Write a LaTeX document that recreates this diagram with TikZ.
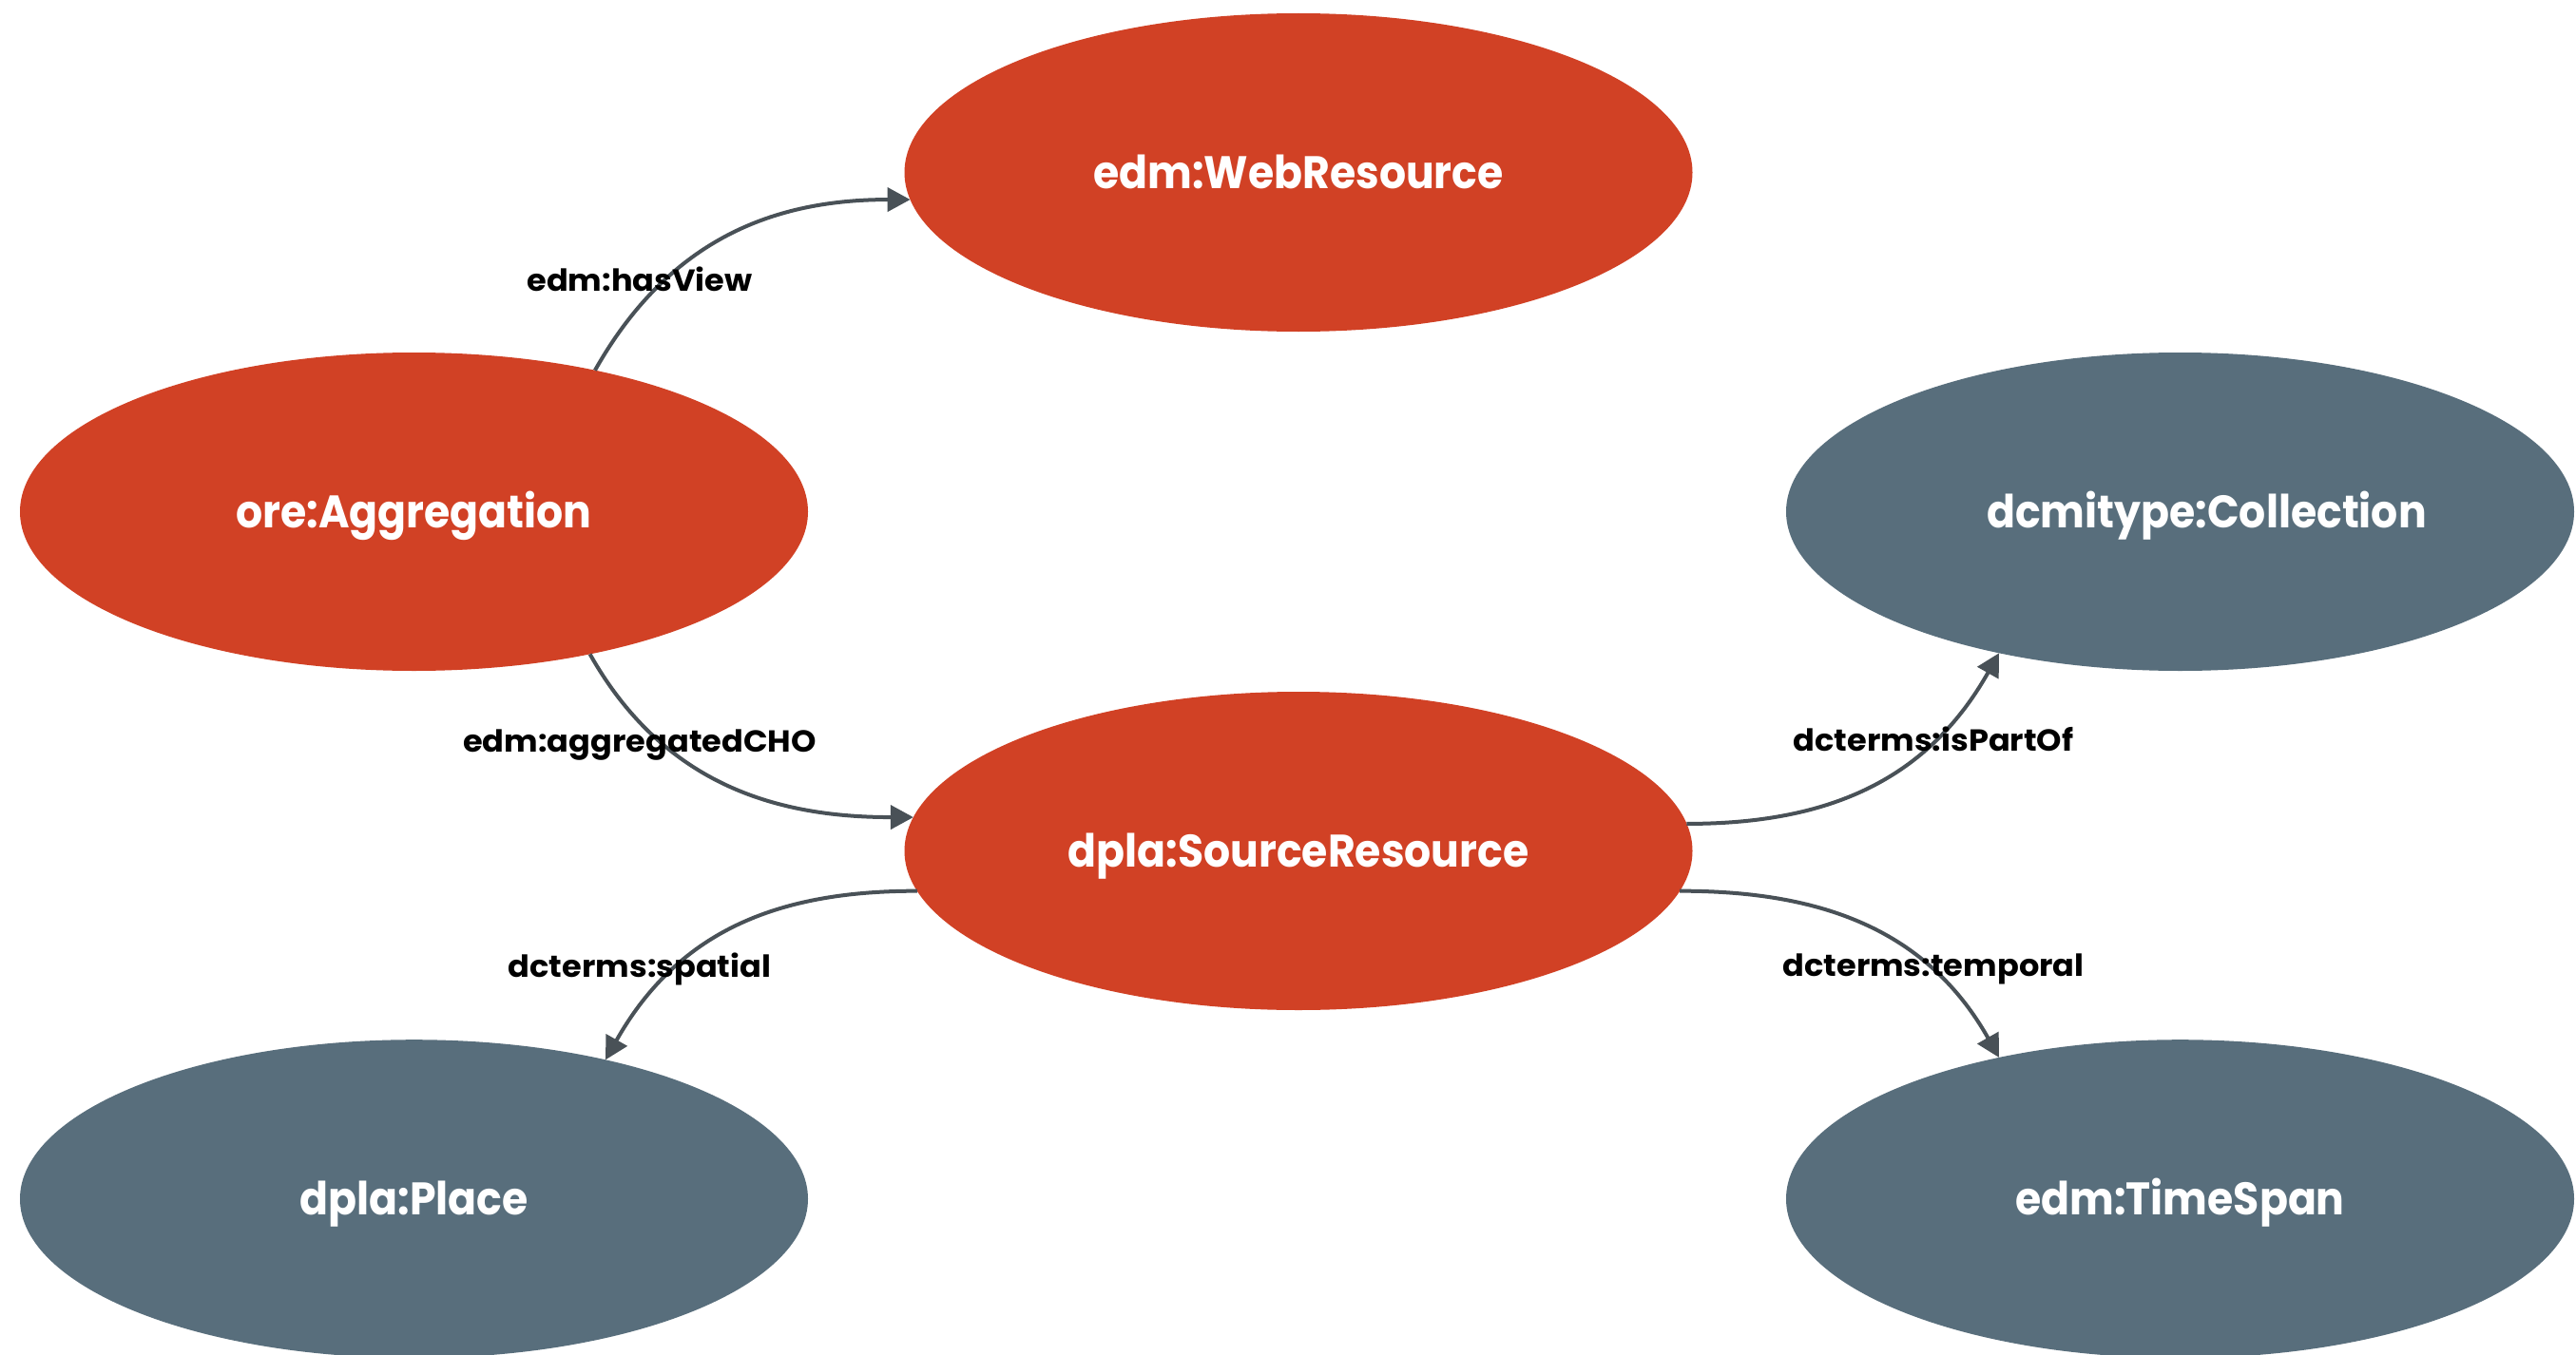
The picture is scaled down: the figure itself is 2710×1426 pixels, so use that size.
\documentclass[tikz,border=0pt]{standalone}
\usepackage{fontspec}
\usetikzlibrary{shapes.geometric,arrows.meta}
\newfontfamily\nodefont{Poppins}[FakeStretch=0.92]
\newfontfamily\edgefont{Poppins}[FakeStretch=1.05]
\definecolor{dplared}{RGB}{209,65,37}
\definecolor{dplagray}{RGB}{88,110,124}
\definecolor{linegray}{RGB}{73,81,87}
\begin{document}
\begin{tikzpicture}[x=1pt,y=-1pt,
  ent/.style={ellipse, minimum width=829pt, minimum height=335pt, inner sep=0pt, outer sep=0pt,
    text=white, font=\nodefont\bfseries\fontsize{48}{48}\selectfont, text height=33pt, text depth=0pt},
  redent/.style={ent, fill=dplared},
  grayent/.style={ent, fill=dplagray},
  rel/.style={draw=linegray, line width=4pt, -{Triangle[length=24pt,width=25pt]}},
  lbl/.style={font=\edgefont\bfseries\fontsize{32}{32}\selectfont, text=black, inner sep=0pt, anchor=base}]
\clip (0,0) rectangle (2710,1426);
\fill[white] (0,0) rectangle (2710,1426);
\node[redent] (web) at (1366,181.5) {edm:WebResource};
\node[redent] (agg) at (435.5,538.5) {ore:Aggregation};
\node[grayent] (coll) at (2293.5,538.5) {\hspace*{56pt}dcmitype:Collection};
\node[redent] (src) at (1366,895.5) {dpla:SourceResource};
\node[grayent] (place) at (435.5,1261.7) {dpla:Place};
\node[grayent] (time) at (2293.5,1261.7) {edm:TimeSpan};
\draw[rel] (agg.38.7) .. controls +(79,-140) and +(-141,0) .. (web.184.3);
\draw[rel] (agg.321.5) .. controls +(79,140) and +(-140,0) .. (src.175.4);
\draw[rel] (src.4.6) .. controls +(140,0) and +(-79,140) .. (coll.218.2);
\draw[rel] (src.354) .. controls +(140,0) and +(-79,-140) .. (time.142);
\draw[rel] (src.186.3) .. controls +(-140,0) and +(79,-140) .. (place.36.7);
\node[lbl] (lhas) at (673,306) {edm:hasView};
\node[lbl] (lagg) at (673,791) {edm:aggregatedCHO};
\node[lbl] (lpart) at (2034,790) {dcterms:isPartOf};
\node[lbl] (ltemp) at (2034,1027) {dcterms:temporal};
\node[lbl] (lspat) at (673,1028) {dcterms:spatial};
\end{tikzpicture}
\end{document}
